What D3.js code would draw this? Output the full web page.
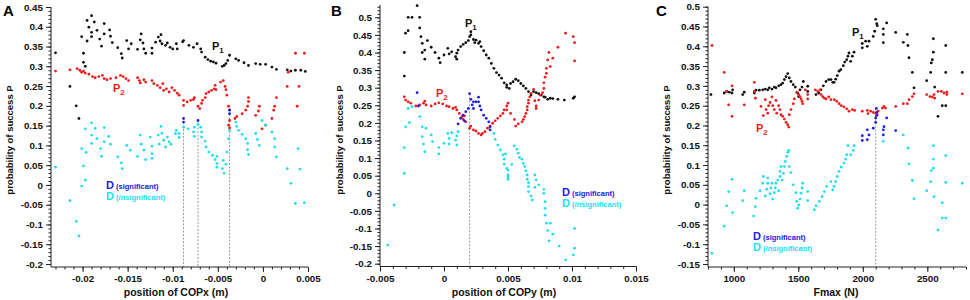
<!DOCTYPE html>
<html>
<head>
<meta charset="utf-8">
<script src="https://cdn.jsdelivr.net/npm/d3@7"></script>
<style>
body { margin: 0; background: #fff; }
svg text { font-family: "Liberation Sans", Arial, sans-serif; font-weight: bold; }
</style>
</head>
<body>
<svg id="chart"></svg>
<script>
// PANEL A : position of COPx ///////////////////////////////////////////////
const aP1 = [[-0.0230,0.334],[-0.0214,0.249],[-0.0207,0.200],[-0.0204,0.168],[-0.0197,0.300],[-0.0199,0.310],[-0.0199,0.333],[-0.0201,0.375],[-0.0195,0.416],[-0.0190,0.428],[-0.0193,0.399],[-0.0190,0.386],[-0.0190,0.375],[-0.0195,0.364],[-0.0187,0.412],[-0.0184,0.391],[-0.0181,0.369],[-0.0179,0.351],[-0.0176,0.408],[-0.0176,0.382],[-0.0170,0.392],[-0.0167,0.360],[-0.0169,0.376],[-0.0161,0.347],[-0.0157,0.332],[-0.0156,0.321],[-0.0151,0.365],[-0.0149,0.344],[-0.0146,0.357],[-0.0139,0.343],[-0.0135,0.382],[-0.0136,0.367],[-0.0133,0.359],[-0.0132,0.344],[-0.0130,0.333],[-0.0123,0.346],[-0.0123,0.333],[-0.0119,0.361],[-0.0116,0.374],[-0.0113,0.380],[-0.0114,0.364],[-0.0112,0.357],[-0.0108,0.353],[-0.0106,0.359],[-0.0103,0.348],[-0.0100,0.344],[-0.0096,0.357],[-0.0095,0.344],[-0.0089,0.362],[-0.0088,0.365],[-0.0082,0.353],[-0.0077,0.348],[-0.0073,0.357],[-0.0069,0.344],[-0.0068,0.336],[-0.0064,0.323],[-0.0061,0.317],[-0.0058,0.313],[-0.0055,0.311],[-0.0052,0.308],[-0.0045,0.300],[-0.0043,0.302],[-0.0041,0.307],[-0.0039,0.315],[-0.0037,0.328],[-0.0030,0.319],[-0.0027,0.315],[-0.0021,0.309],[-0.0016,0.302],[-0.0008,0.307],[-0.0003,0.305],[0.0003,0.305],[0.0010,0.298],[0.0015,0.292],[0.0027,0.291],[0.0031,0.288],[0.0036,0.290],[0.0042,0.290],[0.0047,0.287]];
const aP2 = [[-0.0230,0.288],[-0.0214,0.291],[-0.0206,0.294],[-0.0203,0.290],[-0.0201,0.285],[-0.0199,0.288],[-0.0197,0.283],[-0.0193,0.280],[-0.0189,0.274],[-0.0186,0.271],[-0.0182,0.274],[-0.0178,0.277],[-0.0176,0.269],[-0.0173,0.266],[-0.0169,0.269],[-0.0163,0.271],[-0.0158,0.277],[-0.0155,0.274],[-0.0152,0.269],[-0.0149,0.264],[-0.0139,0.271],[-0.0137,0.264],[-0.0136,0.258],[-0.0132,0.266],[-0.0130,0.260],[-0.0123,0.264],[-0.0121,0.256],[-0.0117,0.252],[-0.0114,0.246],[-0.0111,0.256],[-0.0110,0.239],[-0.0107,0.243],[-0.0104,0.235],[-0.0101,0.246],[-0.0098,0.239],[-0.0095,0.232],[-0.0093,0.227],[-0.0088,0.214],[-0.0088,0.201],[-0.0084,0.210],[-0.0080,0.214],[-0.0077,0.216],[-0.0076,0.221],[-0.0072,0.199],[-0.0070,0.193],[-0.0068,0.206],[-0.0067,0.214],[-0.0064,0.221],[-0.0063,0.231],[-0.0060,0.235],[-0.0057,0.239],[-0.0054,0.243],[-0.0053,0.252],[-0.0052,0.241],[-0.0047,0.260],[-0.0044,0.264],[-0.0042,0.249],[-0.0041,0.241],[-0.0040,0.227],[-0.0038,0.199],[-0.0037,0.190],[-0.0037,0.163],[-0.0038,0.151],[-0.0037,0.144],[-0.0031,0.168],[-0.0029,0.173],[-0.0023,0.180],[-0.0019,0.189],[-0.0017,0.199],[-0.0016,0.211],[-0.0016,0.221],[-0.0008,0.176],[-0.0005,0.187],[-0.0004,0.199],[-0.0001,0.142],[0.0003,0.151],[0.0010,0.168],[0.0012,0.189],[0.0013,0.199],[0.0015,0.221],[0.0027,0.249],[0.0028,0.285],[0.0036,0.333],[0.0038,0.199],[0.0040,0.249],[0.0046,0.333]];
const aDsig = [[-0.0088,0.168],[-0.0088,0.159],[-0.0072,0.163],[-0.0037,0.189],[-0.0037,0.180]];
const aDins = [[-0.0230,0.045],[-0.0214,-0.040],[-0.0207,-0.092],[-0.0204,-0.129],[-0.0201,-0.003],[-0.0199,0.048],[-0.0197,0.012],[-0.0201,0.092],[-0.0196,0.082],[-0.0197,0.142],[-0.0190,0.157],[-0.0190,0.126],[-0.0190,0.105],[-0.0186,0.143],[-0.0184,0.117],[-0.0180,0.092],[-0.0179,0.072],[-0.0176,0.145],[-0.0176,0.109],[-0.0171,0.123],[-0.0169,0.103],[-0.0161,0.071],[-0.0157,0.056],[-0.0156,0.041],[-0.0151,0.100],[-0.0147,0.088],[-0.0139,0.072],[-0.0136,0.126],[-0.0135,0.103],[-0.0132,0.088],[-0.0130,0.064],[-0.0125,0.121],[-0.0123,0.098],[-0.0123,0.079],[-0.0123,0.067],[-0.0116,0.126],[-0.0115,0.103],[-0.0113,0.148],[-0.0112,0.131],[-0.0110,0.113],[-0.0108,0.096],[-0.0106,0.121],[-0.0104,0.109],[-0.0102,0.103],[-0.0097,0.130],[-0.0096,0.138],[-0.0093,0.120],[-0.0093,0.130],[-0.0088,0.146],[-0.0083,0.142],[-0.0077,0.134],[-0.0076,0.146],[-0.0076,0.123],[-0.0072,0.153],[-0.0069,0.146],[-0.0068,0.134],[-0.0068,0.121],[-0.0064,0.111],[-0.0063,0.096],[-0.0060,0.083],[-0.0056,0.075],[-0.0053,0.064],[-0.0051,0.072],[-0.0051,0.054],[-0.0051,0.045],[-0.0044,0.062],[-0.0045,0.041],[-0.0043,0.030],[-0.0041,0.052],[-0.0040,0.083],[-0.0038,0.117],[-0.0037,0.138],[-0.0030,0.159],[-0.0029,0.148],[-0.0027,0.138],[-0.0023,0.128],[-0.0019,0.117],[-0.0017,0.105],[-0.0017,0.089],[-0.0016,0.077],[-0.0008,0.130],[-0.0006,0.115],[-0.0004,0.100],[-0.0001,0.163],[0.0003,0.151],[0.0010,0.134],[0.0013,0.117],[0.0013,0.096],[0.0015,0.071],[0.0027,0.041],[0.0031,0.004],[0.0036,-0.047],[0.0039,0.092],[0.0041,0.040],[0.0046,-0.045]];
const aGuides = [[-0.0088,0.159],[-0.0072,0.163],[-0.0037,0.180]];
const aXTicks = [-0.02, -0.015, -0.01, -0.005, 0, 0.005];
const aYTicks = [-0.2, -0.15, -0.1, -0.05, 0, 0.05, 0.1, 0.15, 0.2, 0.25, 0.3, 0.35, 0.4, 0.45];

// PANEL B : position of COPy ///////////////////////////////////////////////
const bP1 = [[-0.0031,0.333],[-0.0031,0.400],[-0.0030,0.455],[-0.0028,0.462],[-0.0028,0.500],[-0.0025,0.500],[-0.0021,0.533],[-0.0019,0.500],[-0.0019,0.470],[-0.0018,0.445],[-0.0017,0.426],[-0.0017,0.400],[-0.0015,0.407],[-0.0015,0.381],[-0.0013,0.434],[-0.0010,0.415],[-0.0007,0.400],[-0.0004,0.384],[-0.0003,0.371],[0.0000,0.393],[0.0003,0.412],[0.0004,0.396],[0.0006,0.402],[0.0009,0.388],[0.0010,0.398],[0.0010,0.381],[0.0011,0.407],[0.0013,0.417],[0.0015,0.423],[0.0017,0.428],[0.0019,0.434],[0.0020,0.445],[0.0021,0.459],[0.0021,0.450],[0.0023,0.437],[0.0024,0.428],[0.0025,0.435],[0.0027,0.426],[0.0028,0.431],[0.0029,0.417],[0.0031,0.405],[0.0033,0.393],[0.0035,0.384],[0.0037,0.369],[0.0039,0.355],[0.0041,0.343],[0.0043,0.336],[0.0045,0.327],[0.0047,0.314],[0.0049,0.301],[0.0049,0.308],[0.0051,0.298],[0.0052,0.312],[0.0054,0.317],[0.0056,0.324],[0.0058,0.320],[0.0060,0.312],[0.0062,0.305],[0.0064,0.298],[0.0066,0.289],[0.0068,0.279],[0.0070,0.289],[0.0072,0.286],[0.0074,0.283],[0.0076,0.279],[0.0078,0.274],[0.0079,0.273],[0.0081,0.267],[0.0083,0.270],[0.0085,0.269],[0.0089,0.267],[0.0094,0.265],[0.0101,0.270],[0.0102,0.274]];
const bP2 = [[-0.0031,0.274],[-0.0030,0.265],[-0.0028,0.260],[-0.0026,0.256],[-0.0022,0.248],[-0.0019,0.251],[-0.0016,0.256],[-0.0015,0.262],[-0.0014,0.251],[-0.0010,0.248],[-0.0007,0.254],[-0.0004,0.257],[-0.0001,0.254],[0.0002,0.248],[0.0004,0.246],[0.0007,0.241],[0.0009,0.244],[0.0010,0.237],[0.0012,0.227],[0.0014,0.218],[0.0015,0.210],[0.0016,0.220],[0.0017,0.203],[0.0020,0.185],[0.0021,0.191],[0.0023,0.180],[0.0025,0.177],[0.0027,0.170],[0.0029,0.166],[0.0030,0.170],[0.0032,0.175],[0.0034,0.185],[0.0036,0.191],[0.0038,0.199],[0.0040,0.206],[0.0042,0.213],[0.0044,0.220],[0.0046,0.227],[0.0047,0.237],[0.0049,0.248],[0.0050,0.256],[0.0049,0.237],[0.0052,0.227],[0.0055,0.210],[0.0056,0.191],[0.0058,0.197],[0.0061,0.203],[0.0062,0.210],[0.0063,0.218],[0.0064,0.227],[0.0065,0.237],[0.0065,0.246],[0.0066,0.256],[0.0066,0.265],[0.0067,0.274],[0.0068,0.284],[0.0070,0.295],[0.0071,0.263],[0.0072,0.248],[0.0072,0.241],[0.0074,0.265],[0.0075,0.279],[0.0077,0.286],[0.0078,0.298],[0.0078,0.314],[0.0079,0.330],[0.0080,0.341],[0.0080,0.355],[0.0081,0.379],[0.0083,0.360],[0.0082,0.400],[0.0085,0.384],[0.0089,0.415],[0.0095,0.455],[0.0101,0.445],[0.0102,0.428],[0.0102,0.376]];
const bDsig = [[-0.0021,0.286],[-0.0020,0.248],[0.0011,0.197],[0.0013,0.213],[0.0015,0.222],[0.0016,0.206],[0.0017,0.232],[0.0019,0.241],[0.0020,0.283],[0.0021,0.267],[0.0022,0.251],[0.0023,0.260],[0.0023,0.241],[0.0025,0.260],[0.0027,0.273],[0.0027,0.260],[0.0028,0.248],[0.0029,0.237],[0.0031,0.222],[0.0033,0.213],[0.0035,0.203],[0.0036,0.189],[0.0036,0.180]];
const bDins = [[-0.0044,-0.147],[-0.0039,-0.033],[-0.0031,0.057],[-0.0031,0.130],[-0.0030,0.189],[-0.0027,0.201],[-0.0028,0.241],[-0.0025,0.246],[-0.0019,0.218],[-0.0017,0.189],[-0.0014,0.185],[-0.0017,0.161],[-0.0016,0.140],[-0.0015,0.118],[-0.0010,0.166],[-0.0009,0.147],[-0.0004,0.130],[-0.0004,0.112],[0.0000,0.142],[0.0003,0.170],[0.0004,0.140],[0.0004,0.156],[0.0006,0.172],[0.0009,0.151],[0.0010,0.137],[0.0010,0.163],[0.0011,0.175],[0.0039,0.170],[0.0040,0.153],[0.0042,0.137],[0.0044,0.123],[0.0046,0.109],[0.0047,0.097],[0.0047,0.083],[0.0049,0.071],[0.0050,0.047],[0.0048,0.112],[0.0050,0.066],[0.0050,0.052],[0.0050,0.040],[0.0053,0.082],[0.0055,0.135],[0.0057,0.125],[0.0058,0.114],[0.0059,0.102],[0.0061,0.097],[0.0062,0.085],[0.0063,0.076],[0.0064,0.064],[0.0065,0.052],[0.0065,0.040],[0.0066,0.030],[0.0066,0.019],[0.0066,0.005],[0.0068,-0.008],[0.0069,-0.019],[0.0071,0.052],[0.0072,0.038],[0.0071,0.017],[0.0074,0.024],[0.0078,0.011],[0.0078,0.000],[0.0079,-0.024],[0.0079,-0.043],[0.0079,-0.062],[0.0080,-0.085],[0.0081,-0.106],[0.0083,-0.085],[0.0082,-0.135],[0.0085,-0.116],[0.0090,-0.150],[0.0095,-0.189],[0.0101,-0.175],[0.0102,-0.156],[0.0102,-0.100]];
const bGuides = [[0.0020,0.283]];
const bXTicks = [-0.005, 0, 0.005, 0.01, 0.015];
const bYTicks = [-0.2, -0.15, -0.1, -0.05, 0, 0.05, 0.1, 0.15, 0.2, 0.25, 0.3, 0.35, 0.4, 0.45, 0.5];

// PANEL C : Fmax ///////////////////////////////////////////////////////////
const cP1 = [[823,0.278],[926,0.282],[945,0.286],[965,0.284],[986,0.282],[991,0.290],[1069,0.278],[1081,0.284],[1159,0.282],[1172,0.289],[1198,0.289],[1224,0.290],[1244,0.292],[1263,0.290],[1275,0.295],[1296,0.292],[1314,0.297],[1327,0.295],[1348,0.300],[1366,0.303],[1379,0.307],[1392,0.316],[1405,0.323],[1418,0.331],[1430,0.320],[1443,0.311],[1461,0.303],[1477,0.297],[1495,0.282],[1503,0.273],[1513,0.290],[1529,0.297],[1539,0.311],[1573,0.299],[1573,0.286],[1637,0.278],[1658,0.282],[1676,0.290],[1694,0.300],[1715,0.311],[1736,0.316],[1753,0.316],[1767,0.309],[1777,0.309],[1790,0.317],[1802,0.326],[1816,0.337],[1829,0.341],[1849,0.351],[1860,0.360],[1875,0.366],[1885,0.375],[1893,0.383],[1906,0.362],[1919,0.375],[1932,0.385],[1996,0.396],[1996,0.407],[2022,0.413],[2035,0.400],[2048,0.413],[2081,0.425],[2092,0.438],[2100,0.468],[2112,0.452],[2108,0.457],[2159,0.444],[2159,0.430],[2159,0.409],[2185,0.459],[2255,0.435],[2314,0.410],[2345,0.430],[2350,0.402],[2358,0.371],[2384,0.334],[2397,0.295],[2495,0.313],[2526,0.334],[2531,0.358],[2539,0.366],[2547,0.385],[2547,0.419],[2557,0.297],[2583,0.223],[2616,0.250],[2643,0.250],[2643,0.334],[2643,0.402],[2771,0.334]];
const cP2 = [[831,0.402],[926,0.334],[945,0.286],[960,0.252],[986,0.300],[986,0.223],[1081,0.252],[1159,0.309],[1159,0.286],[1167,0.269],[1211,0.248],[1229,0.225],[1244,0.265],[1250,0.240],[1263,0.231],[1270,0.250],[1281,0.258],[1296,0.272],[1302,0.250],[1314,0.240],[1327,0.263],[1333,0.231],[1348,0.250],[1358,0.240],[1366,0.227],[1379,0.223],[1392,0.216],[1405,0.208],[1418,0.202],[1426,0.196],[1430,0.227],[1443,0.240],[1461,0.255],[1469,0.267],[1488,0.284],[1503,0.278],[1513,0.273],[1521,0.267],[1529,0.261],[1534,0.255],[1554,0.290],[1573,0.278],[1573,0.267],[1632,0.290],[1650,0.286],[1668,0.290],[1676,0.278],[1689,0.273],[1702,0.269],[1715,0.267],[1736,0.272],[1753,0.265],[1779,0.265],[1798,0.261],[1816,0.255],[1833,0.250],[1854,0.247],[1875,0.242],[1893,0.236],[1919,0.240],[1937,0.238],[1996,0.236],[2035,0.238],[2040,0.230],[2061,0.236],[2081,0.233],[2100,0.231],[2112,0.227],[2118,0.236],[2151,0.244],[2164,0.248],[2176,0.244],[2255,0.248],[2314,0.255],[2345,0.255],[2358,0.265],[2384,0.273],[2397,0.280],[2495,0.278],[2521,0.273],[2539,0.272],[2552,0.278],[2557,0.269],[2583,0.286],[2609,0.286],[2629,0.282],[2651,0.278],[2651,0.284],[2771,0.280]];
const cDsig = [[1996,0.174],[1996,0.162],[2035,0.189],[2035,0.164],[2048,0.176],[2081,0.193],[2100,0.208],[2100,0.219],[2105,0.243],[2108,0.233],[2108,0.225],[2159,0.189],[2159,0.176],[2164,0.197],[2185,0.219],[2255,0.187]];
const cDins = [[831,-0.123],[926,-0.054],[945,-0.003],[960,0.033],[986,0.064],[991,-0.020],[1069,0.010],[1081,0.035],[1154,-0.029],[1167,-0.005],[1172,0.016],[1203,0.035],[1224,0.054],[1229,0.071],[1244,0.022],[1255,0.039],[1263,0.054],[1263,0.067],[1281,0.027],[1288,0.042],[1296,0.054],[1302,0.014],[1314,0.030],[1322,0.042],[1327,0.054],[1340,0.062],[1348,0.035],[1358,0.071],[1358,0.084],[1366,0.096],[1374,0.062],[1384,0.079],[1392,0.096],[1400,0.109],[1410,0.122],[1418,0.132],[1426,0.137],[1430,0.096],[1443,0.081],[1461,0.050],[1482,0.030],[1487,0.008],[1495,-0.009],[1503,-0.001],[1513,0.014],[1521,0.029],[1529,0.042],[1534,0.054],[1573,0.033],[1573,0.010],[1624,-0.013],[1637,-0.003],[1663,0.008],[1684,0.020],[1702,0.033],[1720,0.046],[1753,0.058],[1767,0.037],[1777,0.046],[1790,0.058],[1802,0.071],[1816,0.084],[1833,0.095],[1854,0.105],[1867,0.115],[1875,0.126],[1885,0.149],[1906,0.126],[1927,0.137],[1932,0.149],[2159,0.160],[2314,0.176],[2350,0.143],[2358,0.103],[2384,0.061],[2397,0.015],[2495,0.035],[2526,0.058],[2531,0.086],[2547,0.092],[2547,0.115],[2547,0.149],[2552,0.020],[2583,-0.064],[2616,0.005],[2616,-0.034],[2643,-0.034],[2643,0.056],[2643,0.124],[2771,0.054]];
const cGuides = [[2100,0.243]];
const cXTicks = [1000, 1500, 2000, 2500];
const cYTicks = [-0.15, -0.1, -0.05, 0, 0.05, 0.1, 0.15, 0.2, 0.25, 0.3, 0.35, 0.4, 0.45, 0.5];

/////////////////////////////////////////////////////////////////////////////

const BLACK = '#111111', RED = '#f01c1c', BLUE = '#2020e0', CYAN = '#22dff0';

var svg = d3.select('#chart').attr('width', 970).attr('height', 300);

function fmt(d) { return String(+d.toFixed(4)); }

function drawPanel(p) {
    var x = d3.scaleLinear().domain(p.xDom).range([p.left, p.right]);
    var y = d3.scaleLinear().domain(p.yDom).range([p.bottom, p.top]);
    var g = svg.append('g');

    // dashed guides first so the dots sit on top
    g.selectAll('line.guide')
        .data(p.guides)
        .enter()
        .append('line')
        .attr('x1', function (d) { return x(d[0]); })
        .attr('x2', function (d) { return x(d[0]); })
        .attr('y1', function (d) { return y(d[1]); })
        .attr('y2', p.axisY)
        .attr('stroke', '#9a9a9a')
        .attr('stroke-width', 1)
        .attr('stroke-dasharray', '2,1.5');

    p.series.forEach(function (s) {
        g.append('g')
            .selectAll('circle')
            .data(s.data)
            .enter()
            .append('circle')
            .attr('cx', function (d) { return x(d[0]); })
            .attr('cy', function (d) { return y(d[1]); })
            .attr('r', 1.4)
            .attr('fill', s.color);
    });

    // left axis (major + minor)
    var yAx = g.append('g')
        .attr('transform', 'translate(' + p.left + ',0)')
        .call(d3.axisLeft(y).tickValues(p.yTicks).tickSize(5).tickPadding(3).tickFormat(fmt));
    yAx.select('.domain').remove();
    g.append('g')
        .attr('transform', 'translate(' + p.left + ',0)')
        .call(d3.axisLeft(y).tickValues(p.yMinor).tickSize(2.5).tickFormat(''))
        .select('.domain').remove();

    // bottom axis (major + minor)
    var xAx = g.append('g')
        .attr('transform', 'translate(0,' + p.axisY + ')')
        .call(d3.axisBottom(x).tickValues(p.xTicks).tickSize(5).tickPadding(3.5).tickFormat(fmt));
    xAx.select('.domain').remove();
    g.append('g')
        .attr('transform', 'translate(0,' + p.axisY + ')')
        .call(d3.axisBottom(x).tickValues(p.xMinor).tickSize(2.5).tickFormat(''))
        .select('.domain').remove();

    g.selectAll('.tick line').attr('stroke', '#222');
    g.selectAll('.tick text').attr('font-size', 9.8).style('fill', '#111');

    g.append('path')
        .attr('d', 'M' + p.left + ',' + p.top + 'V' + p.axisY + 'H' + p.right)
        .attr('fill', 'none')
        .attr('stroke', '#222')
        .attr('stroke-width', 1);

    // titles
    g.append('text')
        .text('probability of success P')
        .attr('transform', 'translate(' + p.yTitleX + ',140) rotate(-90)')
        .attr('dy', '0.35em')
        .style('text-anchor', 'middle')
        .style('font-size', '9.5px')
        .style('fill', '#111');

    g.append('text')
        .text(p.xTitle)
        .attr('x', p.xTitleX)
        .attr('y', 296)
        .style('text-anchor', 'middle')
        .style('font-size', '10.5px')
        .style('fill', '#111');

    g.append('text')
        .text(p.letter)
        .attr('x', p.letterX)
        .attr('y', 16)
        .style('font-size', '15px')
        .style('fill', '#000');

    // P1 / P2 labels
    p.plabels.forEach(function (l) {
        var t = g.append('text').attr('x', l.x).attr('y', l.y).style('fill', l.color).style('font-size', '11px');
        t.append('tspan').text('P');
        t.append('tspan').text(l.sub).attr('dy', 3).style('font-size', '8px');
    });

    // legend
    var lg = g.append('g');
    var t1 = lg.append('text').attr('x', p.legX).attr('y', p.legY).style('fill', BLUE);
    t1.append('tspan').text('D').style('font-size', '11px');
    t1.append('tspan').text(' (significant)').style('font-size', '7.5px');
    var t2 = lg.append('text').attr('x', p.legX).attr('y', p.legY + 10.5).style('fill', CYAN);
    t2.append('tspan').text('D').style('font-size', '11px');
    t2.append('tspan').text(' (').style('font-size', '7.5px');
    t2.append('tspan').text('in').style('font-size', '7.5px').style('font-style', 'italic');
    t2.append('tspan').text('significant)').style('font-size', '7.5px');
}

function steps(a, b, s) {
    var n = Math.round((b - a) / s);
    return d3.range(n + 1).map(function (i) { return +(a + i * s).toFixed(5); });
}

drawPanel({
    letter: 'A', letterX: 3,
    left: 51, right: 308, top: 7, bottom: 264, axisY: 267,
    xDom: [-0.0235, 0.005], yDom: [-0.2, 0.45],
    xTicks: aXTicks, yTicks: aYTicks,
    xMinor: steps(-0.023, 0.005, 0.001), yMinor: steps(-0.2, 0.45, 0.01),
    guides: aGuides,
    series: [{ data: aP1, color: BLACK }, { data: aP2, color: RED }, { data: aDins, color: CYAN }, { data: aDsig, color: BLUE }],
    yTitleX: 10, xTitle: 'position of COPx (m)', xTitleX: 176,
    plabels: [{ x: 212, y: 50, sub: '1', color: BLACK }, { x: 113, y: 92, sub: '2', color: RED }],
    legX: 106, legY: 189
});

drawPanel({
    letter: 'B', letterX: 331,
    left: 380, right: 636, top: 5, bottom: 263.7, axisY: 266.5,
    xDom: [-0.005, 0.015], yDom: [-0.2, 0.535],
    xTicks: bXTicks, yTicks: bYTicks,
    xMinor: steps(-0.005, 0.015, 0.001), yMinor: steps(-0.2, 0.53, 0.01),
    guides: bGuides,
    series: [{ data: bP1, color: BLACK }, { data: bP2, color: RED }, { data: bDins, color: CYAN }, { data: bDsig, color: BLUE }],
    yTitleX: 340, xTitle: 'position of COPy (m)', xTitleX: 504,
    plabels: [{ x: 465, y: 27, sub: '1', color: BLACK }, { x: 436, y: 97, sub: '2', color: RED }],
    legX: 562, legY: 196
});

drawPanel({
    letter: 'C', letterX: 656,
    left: 708, right: 966, top: 6.7, bottom: 264, axisY: 267,
    xDom: [800, 2800], yDom: [-0.15, 0.5],
    xTicks: cXTicks, yTicks: cYTicks,
    xMinor: steps(800, 2800, 100), yMinor: steps(-0.15, 0.5, 0.01),
    guides: cGuides,
    series: [{ data: cP1, color: BLACK }, { data: cP2, color: RED }, { data: cDins, color: CYAN }, { data: cDsig, color: BLUE }],
    yTitleX: 667, xTitle: 'Fmax (N)', xTitleX: 836,
    plabels: [{ x: 852, y: 36, sub: '1', color: BLACK }, { x: 756, y: 132, sub: '2', color: RED }],
    legX: 753, legY: 240
});
</script>
</body>
</html>
